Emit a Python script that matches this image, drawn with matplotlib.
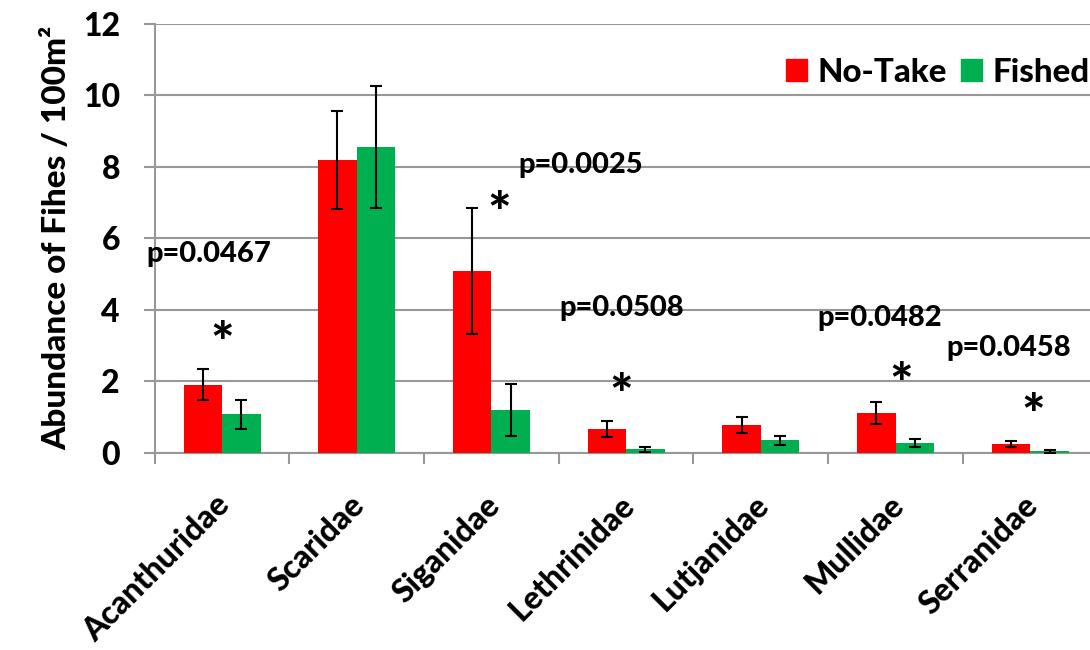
import matplotlib
matplotlib.use("Agg")
import matplotlib.pyplot as plt
import matplotlib.transforms as mtransforms
from matplotlib.patches import Patch
from matplotlib import font_manager
import numpy as np

# Reef fish families surveyed
families = ["Acanthuridae", "Scaridae", "Siganidae", "Lethrinidae",
            "Lutjanidae", "Mullidae", "Serranidae"]

# Mean abundance per 100 m2 and standard errors
no_take = [1.90, 8.19, 5.09, 0.66, 0.78, 1.10, 0.24]
no_take_se = [0.43, 1.38, 1.77, 0.23, 0.23, 0.31, 0.09]
fished = [1.07, 8.56, 1.19, 0.09, 0.35, 0.27, 0.04]
fished_se = [0.41, 1.71, 0.73, 0.07, 0.13, 0.11, 0.04]

series_names = ["No-Take", "Fished"]
y_ticks = [0, 2, 4, 6, 8, 10, 12]

# Significance labels
p_labels = ["p=0.0467", "p=0.0025", "p=0.0508", "p=0.0482", "p=0.0458"]

RED = "#FF0000"
GREEN = "#00B050"
GRID = "#989898"


def heaviest_weight(name):
    best = 400
    for f in font_manager.fontManager.ttflist:
        if f.name == name and isinstance(f.weight, int) and f.style == "normal":
            best = max(best, f.weight)
    return best


FONT = "Lato"
WEIGHT = heaviest_weight(FONT)

plt.rcParams["font.family"] = [FONT, "DejaVu Sans"]
plt.rcParams["font.weight"] = WEIGHT

fig = plt.figure(figsize=(10.9, 6.5), dpi=100)
ax = fig.add_axes([154.7 / 1090, (650 - 452.7) / 650, 942.9 / 1090, 428.7 / 650])

x = np.arange(len(families))
w = 0.286

err_kw = dict(ecolor="black", elinewidth=1.5, capsize=4.3, capthick=1.5)
ax.bar(x - w / 2, no_take, w, yerr=no_take_se, color=RED, label=series_names[0],
       error_kw=err_kw, zorder=3)
ax.bar(x + w / 2, fished, w, yerr=fished_se, color=GREEN, label=series_names[1],
       error_kw=err_kw, zorder=3)

ax.set_xlim(-0.5, len(families) - 0.5)
ax.set_ylim(0, 12)
ax.set_yticks(y_ticks)
ax.set_yticklabels([str(t) for t in y_ticks], fontsize=23, fontweight=WEIGHT)
ax.yaxis.grid(True, color=GRID, linewidth=1.5, zorder=0)
ax.set_axisbelow(True)

for side in ("top", "right"):
    ax.spines[side].set_visible(False)
for side in ("left", "bottom"):
    ax.spines[side].set_color(GRID)
    ax.spines[side].set_linewidth(1.5)

ax.tick_params(axis="y", length=8, width=1.5, color=GRID, pad=17)
ax.set_xticks(x)
ax.set_xticklabels(families, rotation=45, ha="right", rotation_mode="anchor",
                   fontsize=23, fontweight=WEIGHT)
ax.set_xticks(np.arange(len(families) + 1) - 0.5, minor=True)
ax.tick_params(axis="x", which="major", length=0, pad=27)
ax.tick_params(axis="x", which="minor", length=8, width=1.5, color=GRID)

# nudge the slanted category names slightly to the left
shift = mtransforms.ScaledTranslation(-7 / 100, 0, fig.dpi_scale_trans)
for lab in ax.xaxis.get_majorticklabels():
    lab.set_transform(lab.get_transform() + shift)

ax.set_ylabel("Abundance of Fihes / 100m²", fontsize=24,
              fontweight=WEIGHT, labelpad=8)

# p-value annotations (x in category units, y at text centre)
p_pos = [(-0.10, 5.62), (2.66, 8.11), (2.97, 4.13), (4.88, 3.85), (5.84, 3.01)]
for lab, (px, py) in zip(p_labels, p_pos):
    ax.annotate(lab, (px, py), xytext=(0, -0.36 * 21), textcoords="offset points",
                ha="center", va="baseline", fontsize=21, fontweight=WEIGHT)

# significance asterisks
star_pos = [(0.0, 3.39), (2.06, 7.03), (2.96, 1.94), (5.04, 2.24), (6.02, 1.38)]
for sx, sy in star_pos:
    ax.annotate("*", (sx, sy), xytext=(0, -0.55 * 40), textcoords="offset points",
                ha="center", va="baseline", fontsize=40, fontweight=WEIGHT)

handles = [Patch(color=RED), Patch(color=GREEN)]
ax.legend(handles, series_names, loc="center left", ncol=2, frameon=False,
          bbox_to_anchor=(786 / 1090, 1 - 72 / 650), bbox_transform=fig.transFigure,
          borderpad=0, borderaxespad=0, handlelength=0.63, handleheight=0.63,
          handletextpad=0.33, columnspacing=0.42,
          prop=dict(family=FONT, weight=WEIGHT, size=23.8))

fig.savefig("out.png", dpi=100)
